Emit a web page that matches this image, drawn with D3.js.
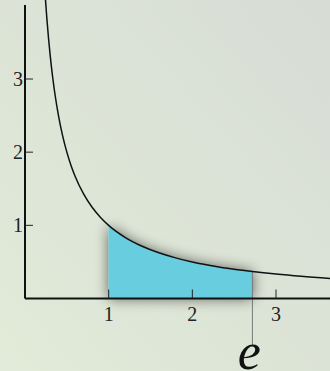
<!DOCTYPE html>
<html>
<head>
<meta charset="utf-8">
<script src="https://cdn.jsdelivr.net/npm/d3@7"></script>
<style>
  body { margin: 0; }
  svg { display: block; }
  text { font-family: "Liberation Serif", "Times New Roman", serif; }
</style>
</head>
<body>
<script>
// y = 1/x, shaded area from 1 to e
var xTicks = [1, 2, 3];
var yTicks = [1, 2, 3];
var curveXs = [0.245, 0.26, 0.28, 0.3, 0.33, 0.36, 0.4, 0.45, 0.5, 0.55, 0.6, 0.7, 0.8, 0.9, 1, 1.2, 1.4, 1.6, 1.8, 2, 2.3, 2.6, 2.718, 3, 3.3, 3.7];
var areaXs = [1, 1.1, 1.2, 1.3, 1.4, 1.5, 1.6, 1.8, 2, 2.2, 2.4, 2.6, 2.718];
var eValue = 2.718;

var width = 330, height = 371;

var x = d3.scaleLinear().domain([0, 3]).range([25, 276]);
var y = d3.scaleLinear().domain([0, 3]).range([298.5, 79]);

var svg = d3.select("body").append("svg")
  .attr("width", width)
  .attr("height", height);

var defs = svg.append("defs");
var grad = defs.append("linearGradient")
  .attr("id", "bg")
  .attr("x1", "0").attr("y1", "1")
  .attr("x2", "1").attr("y2", "0");
grad.append("stop").attr("offset", "0").attr("stop-color", "#e1ebd8");
grad.append("stop").attr("offset", "1").attr("stop-color", "#d7dcd5");

var shadow = defs.append("filter")
  .attr("id", "shadow")
  .attr("x", "-30%").attr("y", "-30%")
  .attr("width", "160%").attr("height", "160%");
shadow.append("feGaussianBlur").attr("in", "SourceAlpha").attr("stdDeviation", 7);
shadow.append("feOffset").attr("dx", 0).attr("dy", 0).attr("result", "blur");
shadow.append("feComponentTransfer").append("feFuncA").attr("type", "linear").attr("slope", 0.6);
var merge = shadow.append("feMerge");
merge.append("feMergeNode");
merge.append("feMergeNode").attr("in", "SourceGraphic");

svg.append("rect")
  .attr("width", width).attr("height", height)
  .attr("fill", "url(#bg)");

// shaded region
var area = d3.area()
  .x(function (d) { return x(d); })
  .y0(y(0))
  .y1(function (d) { return y(1 / d); })
  .curve(d3.curveMonotoneX);

svg.append("path")
  .datum(areaXs)
  .attr("d", area)
  .attr("fill", "#68cddf")
  .attr("filter", "url(#shadow)");

// e marker line
svg.append("line")
  .attr("x1", x(eValue)).attr("x2", x(eValue))
  .attr("y1", y(1 / eValue)).attr("y2", 346)
  .attr("stroke", "#777").attr("stroke-width", 1);

// axes
svg.append("line")
  .attr("x1", x(0)).attr("x2", width)
  .attr("y1", y(0)).attr("y2", y(0))
  .attr("stroke", "#111").attr("stroke-width", 2);
svg.append("line")
  .attr("x1", x(0)).attr("x2", x(0))
  .attr("y1", 5).attr("y2", y(0))
  .attr("stroke", "#111").attr("stroke-width", 2);

svg.selectAll(".xtick")
  .data(xTicks)
  .enter().append("line")
  .attr("x1", function (d) { return x(d); })
  .attr("x2", function (d) { return x(d); })
  .attr("y1", y(0)).attr("y2", y(0) - 9)
  .attr("stroke", "#222").attr("stroke-width", 1);

svg.selectAll(".ytick")
  .data(yTicks)
  .enter().append("line")
  .attr("x1", x(0)).attr("x2", x(0) + 8)
  .attr("y1", function (d) { return y(d); })
  .attr("y2", function (d) { return y(d); })
  .attr("stroke", "#222").attr("stroke-width", 1);

svg.selectAll(".xlabel")
  .data(xTicks)
  .enter().append("text")
  .attr("x", function (d) { return x(d); })
  .attr("y", y(0) + 22)
  .attr("text-anchor", "middle")
  .attr("font-size", 20)
  .attr("fill", "#222")
  .text(function (d) { return d; });

svg.selectAll(".ylabel")
  .data(yTicks)
  .enter().append("text")
  .attr("x", x(0) - 2)
  .attr("y", function (d) { return y(d) + 7; })
  .attr("text-anchor", "end")
  .attr("font-size", 20)
  .attr("fill", "#222")
  .text(function (d) { return d; });

// curve
var line = d3.line()
  .x(function (d) { return x(d); })
  .y(function (d) { return y(1 / d); })
  .curve(d3.curveMonotoneX);

svg.append("path")
  .datum(curveXs)
  .attr("d", line)
  .attr("fill", "none")
  .attr("stroke", "#111")
  .attr("stroke-width", 1.5);

svg.append("text")
  .attr("x", x(eValue) - 3)
  .attr("y", 369)
  .attr("text-anchor", "middle")
  .attr("font-style", "italic")
  .attr("font-size", 52)
  .attr("fill", "#111")
  .text("e");
</script>
</body>
</html>
